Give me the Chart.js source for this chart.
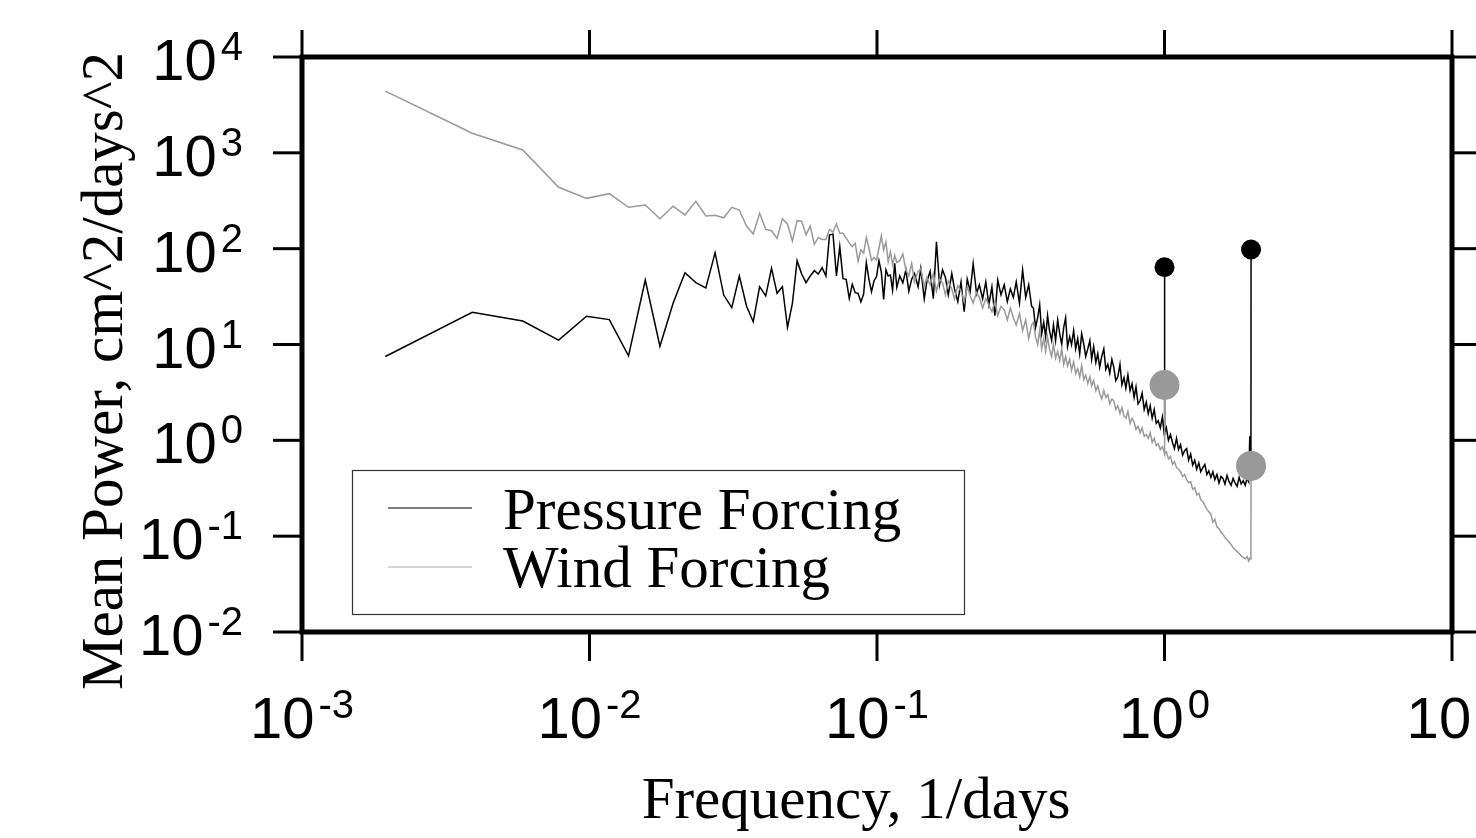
<!DOCTYPE html>
<html>
<head>
<meta charset="utf-8">
<title>Mean Power spectrum</title>
<script src="https://cdn.jsdelivr.net/npm/chart.js"></script>
<style>
  html, body { margin: 0; padding: 0; background: #fff; }
  canvas { display: block; }
</style>
</head>
<body>
<canvas id="spectrum" width="1476" height="838"></canvas>
<script>
// frequency axis (1/days), low end: single bins k/512
const freqLow = [
  0.00195, 0.00391, 0.00586, 0.00781, 0.00977, 0.01172, 0.01367, 0.01563, 0.01758, 0.01953,
  0.02148, 0.02344, 0.02539, 0.02734, 0.0293, 0.03125, 0.0332, 0.03516, 0.03711, 0.03906,
  0.04102, 0.04297, 0.04492, 0.04688, 0.04883, 0.05078, 0.05273, 0.05469, 0.05664, 0.05859,
  0.06055, 0.0625, 0.06445, 0.06641, 0.06836, 0.07031, 0.07227, 0.07422, 0.07617, 0.07813,
  0.08008, 0.08203, 0.08398, 0.08594, 0.08789, 0.08984, 0.0918, 0.09375, 0.0957, 0.09766,
  0.09961, 0.10156, 0.10352, 0.10547, 0.10742, 0.10938, 0.11133, 0.11328, 0.11523, 0.11719
];
const freqMid = [
  0.12, 0.123, 0.126, 0.129, 0.132, 0.135, 0.139, 0.142, 0.146, 0.149,
  0.153, 0.157, 0.161, 0.165, 0.169, 0.173, 0.177, 0.182, 0.186, 0.191,
  0.196, 0.201, 0.206, 0.211, 0.216, 0.222, 0.227, 0.233, 0.239, 0.245,
  0.251, 0.257, 0.263, 0.27, 0.277, 0.284, 0.291, 0.298, 0.305, 0.313,
  0.321, 0.329, 0.337, 0.345
];
const freqHigh = [
  0.35, 0.356, 0.362, 0.368, 0.374, 0.38, 0.386, 0.392, 0.398, 0.405,
  0.411, 0.418, 0.425, 0.432, 0.439, 0.446, 0.453, 0.46, 0.468, 0.475,
  0.483, 0.491, 0.499, 0.507, 0.515, 0.524, 0.532, 0.541, 0.55, 0.558,
  0.567, 0.577, 0.586, 0.595, 0.605, 0.615, 0.625, 0.635, 0.645, 0.656,
  0.666, 0.677, 0.688, 0.7, 0.711, 0.723, 0.734, 0.746, 0.759, 0.771,
  0.784, 0.796, 0.809, 0.823, 0.836, 0.85, 0.864, 0.878, 0.892, 0.906,
  0.921, 0.936, 0.951, 0.967, 0.983, 0.998, 1, 1.002, 1.015, 1.032,
  1.049, 1.066, 1.083, 1.101, 1.119, 1.137, 1.156, 1.175, 1.194, 1.213,
  1.233, 1.253, 1.274, 1.294, 1.316, 1.337, 1.359, 1.381, 1.404, 1.426,
  1.45, 1.473, 1.497, 1.522, 1.547, 1.572, 1.597, 1.623, 1.65, 1.677,
  1.704, 1.732, 1.76, 1.789, 1.818, 1.848, 1.878, 1.908, 1.939, 1.962,
  1.98, 1.998, 2
];

// Pressure Forcing (black)
const pressureLow = [
  7.5, 21.7, 17.6, 11.1, 19.7, 18.2, 7.6, 47.1, 9.6, 26.9,
  56.1, 44.2, 38.9, 90.8, 32.8, 24.2, 51.9, 25.2, 17.3, 40.1,
  32.1, 62.4, 34.2, 40.1, 15.1, 26.9, 74.9, 54.4, 44.2, 51.9,
  58.9, 54.4, 63.3, 51.9, 139, 142, 51.9, 105, 48.6, 47.9,
  30.3, 42.5, 34.7, 34.2, 27.8, 33.6, 71.4, 47.9, 35.6, 46.3,
  51, 74.9, 57, 29.6, 59.9, 51.9, 53, 37, 70.4, 39.5
];
const pressureMid = [
  52, 44, 60, 36, 48, 55, 40, 62, 30, 45,
  58, 30, 118, 42, 60, 50, 33, 55, 38, 28,
  45, 22, 48, 36, 70, 34, 42, 30, 45, 26,
  40, 20, 47, 33, 42, 28, 38, 31, 45, 27,
  60, 31, 42, 25
];
const pressureHigh = [
  24, 15, 19, 26, 13, 17, 12, 20, 14, 11,
  16, 11, 18, 13, 10, 15, 19, 9.5, 12, 10,
  14, 9, 11.5, 8, 13, 10, 7.5, 9, 11, 7,
  9.5, 6.5, 8, 5.8, 7.5, 9, 5.5, 6.2, 5, 7,
  5.8, 4.2, 4.6, 6.2, 3.8, 4.5, 3.5, 4.8, 3.3, 3.9,
  2.8, 3.6, 2.4, 2.6, 3.1, 2.1, 2.5, 1.9, 2.3, 1.7,
  2.1, 1.5, 1.6, 1.35, 1.75, 1.15, 64, 1.2, 1.35, 1.0,
  1.15, 0.95, 0.82, 1.05, 0.8, 0.9, 0.7, 0.78, 0.82, 0.62,
  0.72, 0.55, 0.62, 0.5, 0.58, 0.47, 0.52, 0.56, 0.44, 0.48,
  0.41, 0.47, 0.39, 0.44, 0.36, 0.42, 0.4, 0.35, 0.43, 0.37,
  0.34, 0.4, 0.36, 0.33, 0.41, 0.35, 0.38, 0.34, 0.4, 0.37,
  1.1, 0.42, 98
];

// Wind Forcing (grey)
const windLow = [
  4400, 1600, 1070, 437, 335, 375, 270, 286, 205, 277,
  225, 312, 219, 223, 210, 270, 253, 172, 142, 234,
  159, 154, 128, 205, 181, 120, 196, 193, 140, 172,
  111, 131, 125, 125, 159, 149, 181, 145, 145, 129,
  115, 105, 114, 74, 97, 90, 131, 101, 75, 81,
  76, 101, 136, 97, 118, 73, 93, 68, 85, 72
];
const windMid = [
  75, 88, 60, 52, 70, 45, 58, 62, 40, 50,
  42, 55, 36, 48, 44, 33, 46, 38, 30, 41,
  36, 28, 40, 32, 27, 35, 31, 24, 30, 26,
  22, 28, 20, 25, 23, 18, 24, 19, 16, 21,
  14, 18, 11.5, 16
];
const windHigh = [
  17, 12, 10, 14, 9, 11.5, 8.5, 12, 9, 7.5,
  10, 7.2, 8.5, 6.8, 9, 6.2, 7.5, 6, 7, 5.4,
  6.6, 5, 5.6, 4.6, 6, 4.3, 4.8, 3.9, 4.6, 3.7,
  4.2, 3.3, 3.7, 3.1, 2.7, 3.3, 2.8, 3, 2.4, 2.7,
  2.6, 2.1, 2.3, 1.9, 2.2, 1.8, 1.7, 2.0, 1.5, 1.7,
  1.55, 1.3, 1.4, 1.2, 1.35, 1.1, 1.15, 1.05, 1.2, 0.95,
  1.05, 0.88, 0.92, 0.8, 0.86, 0.74, 3.78, 0.72, 0.76, 0.64,
  0.68, 0.56, 0.6, 0.52, 0.5, 0.47, 0.42, 0.44, 0.39, 0.36,
  0.37, 0.31, 0.32, 0.27, 0.28, 0.24, 0.23, 0.21, 0.19, 0.18,
  0.17, 0.14, 0.15, 0.125, 0.12, 0.11, 0.105, 0.097, 0.092, 0.087,
  0.082, 0.076, 0.072, 0.069, 0.066, 0.062, 0.06, 0.058, 0.061, 0.055,
  0.059, 0.058, 0.54
];

// tidal peaks (diurnal, semidiurnal)
const peakFreq = [1, 2];
const pressurePeak = [64, 98];
const windPeak = [3.78, 0.54];

const xTicks = [0.001, 0.01, 0.1, 1, 10];
const xTickExp = ['-3', '-2', '-1', '0', '1'];
const yTicks = [0.01, 0.1, 1, 10, 100, 1000, 10000];
const yTickExp = ['-2', '-1', '0', '1', '2', '3', '4'];

const freq = freqLow.concat(freqMid, freqHigh);
const pressure = pressureLow.concat(pressureMid, pressureHigh);
const wind = windLow.concat(windMid, windHigh);

const serif = '"Liberation Serif", "Times New Roman", serif';
const sans = '"Liberation Sans", Arial, sans-serif';

function drawPower(ctx, exp, x, baseline, align) {
  ctx.font = '58px ' + sans;
  const w1 = ctx.measureText('10').width;
  ctx.font = '40px ' + sans;
  const w2 = ctx.measureText(exp).width;
  const w = w1 + 4 + w2;
  const x0 = align === 'center' ? x - w / 2 : x - w;
  ctx.textAlign = 'left';
  ctx.textBaseline = 'alphabetic';
  ctx.font = '58px ' + sans;
  ctx.fillText('10', x0, baseline);
  ctx.font = '40px ' + sans;
  ctx.fillText(exp, x0 + w1 + 4, baseline - 20);
}

function seg(ctx, x1, y1, x2, y2) {
  ctx.beginPath();
  ctx.moveTo(x1, y1);
  ctx.lineTo(x2, y2);
  ctx.stroke();
}

const framePlugin = {
  id: 'frame',
  afterDraw(chart) {
    const { ctx, chartArea: a, scales: { x, y } } = chart;
    ctx.save();
    ctx.strokeStyle = '#000';
    ctx.fillStyle = '#000';

    // thick box
    ctx.lineWidth = 5;
    ctx.strokeRect(a.left, a.top, a.right - a.left, a.bottom - a.top);

    // outward ticks on all four sides
    ctx.lineWidth = 3;
    xTicks.forEach(v => {
      const px = x.getPixelForValue(v);
      seg(ctx, px, a.top - 27, px, a.top);
      seg(ctx, px, a.bottom, px, a.bottom + 29);
    });
    yTicks.forEach(v => {
      const py = y.getPixelForValue(v);
      seg(ctx, a.left - 29, py, a.left, py);
      seg(ctx, a.right, py, a.right + 27, py);
    });

    // tick labels
    xTicks.forEach((v, i) => drawPower(ctx, xTickExp[i], x.getPixelForValue(v), 738, 'center'));
    yTicks.forEach((v, i) => drawPower(ctx, yTickExp[i], 243, y.getPixelForValue(v) + 23, 'right'));

    // axis titles
    ctx.font = '59px ' + serif;
    ctx.textAlign = 'center';
    ctx.textBaseline = 'alphabetic';
    ctx.fillText('Frequency, 1/days', 856, 818);
    ctx.save();
    ctx.translate(122, 371);
    ctx.rotate(-Math.PI / 2);
    ctx.fillText('Mean Power, cm^2/days^2', 0, 0);
    ctx.restore();

    // legend
    ctx.lineWidth = 1.2;
    ctx.strokeStyle = '#333';
    ctx.strokeRect(352.5, 470.5, 612, 144);
    ctx.strokeStyle = '#000';
    seg(ctx, 388, 508, 472, 508);
    ctx.strokeStyle = '#aaa';
    seg(ctx, 388, 567, 472, 567);
    ctx.font = '59px ' + serif;
    ctx.textAlign = 'left';
    ctx.fillText('Pressure Forcing', 503, 529);
    ctx.fillText('Wind Forcing', 503, 587);
    ctx.restore();
  }
};

const toXY = (xs, ys) => xs.map((f, i) => ({ x: f, y: ys[i] }));

new Chart(document.getElementById('spectrum').getContext('2d'), {
  type: 'line',
  data: {
    datasets: [
      {
        label: 'Pressure peaks',
        data: toXY(peakFreq, pressurePeak),
        showLine: false,
        pointRadius: 10,
        pointBorderWidth: 0,
        pointBackgroundColor: '#000'
      },
      {
        label: 'Wind peaks',
        data: toXY(peakFreq, windPeak),
        showLine: false,
        pointRadius: 15,
        pointBorderWidth: 0,
        pointBackgroundColor: '#999'
      },
      {
        label: 'Wind Forcing',
        data: toXY(freq, wind),
        borderColor: '#999',
        borderWidth: 1.5,
        pointRadius: 0,
        tension: 0
      },
      {
        label: 'Pressure Forcing',
        data: toXY(freq, pressure),
        borderColor: '#000',
        borderWidth: 1.5,
        pointRadius: 0,
        tension: 0
      }
    ]
  },
  options: {
    responsive: false,
    animation: false,
    layout: { padding: { left: 302, right: 24, top: 57, bottom: 206 } },
    scales: {
      x: { type: 'logarithmic', min: 0.001, max: 10, display: false },
      y: { type: 'logarithmic', min: 0.01, max: 10000, display: false }
    },
    plugins: {
      legend: { display: false },
      tooltip: { enabled: false }
    }
  },
  plugins: [framePlugin]
});
</script>
</body>
</html>
